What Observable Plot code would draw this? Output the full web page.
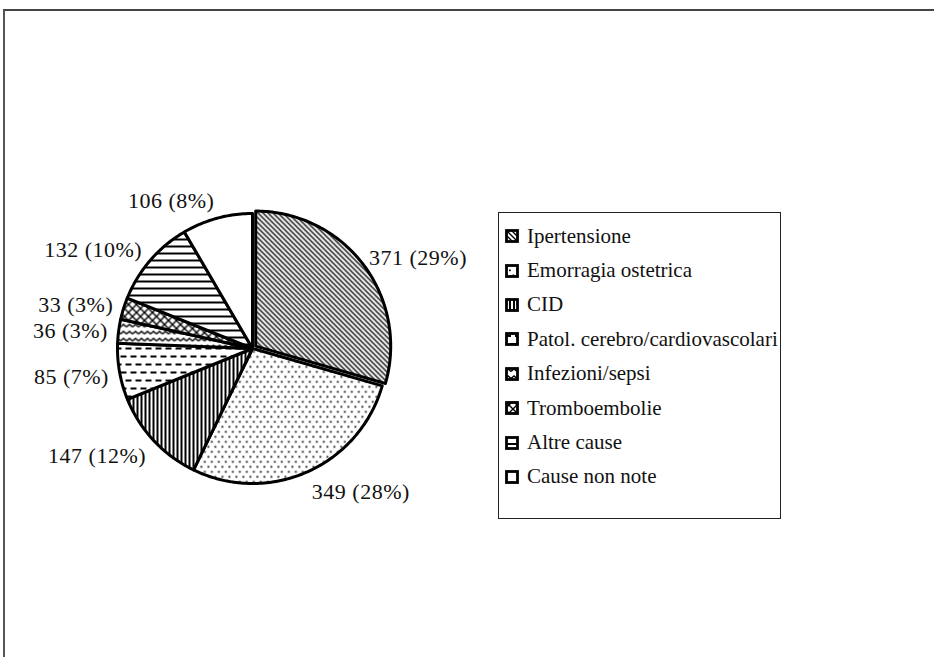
<!DOCTYPE html>
<html>
<head>
<meta charset="utf-8">
<script src="https://cdn.jsdelivr.net/npm/d3@7"></script>
<script src="https://cdn.jsdelivr.net/npm/@observablehq/plot@0.6"></script>
<style>
  body { margin: 0; background: #fff; }
  #wrap { position: relative; width: 934px; height: 657px; overflow: hidden; background: #fff; font-family: "Liberation Serif", "Times New Roman", serif; }
  #frame { position: absolute; left: 3px; top: 9px; width: 960px; height: 700px; border-top: 2px solid #444; border-left: 2px solid #555; }
  #chart { position: absolute; left: 0; top: 0; }
  #legend { position: absolute; left: 498px; top: 212px; width: 283px; height: 307px; border: 1px solid #222; box-sizing: border-box; padding-top: 6px; background: #fff; }
  .item { height: 34.4px; display: flex; align-items: center; font-size: 21px; color: #111; white-space: nowrap; }
  .item svg { margin-left: 6px; margin-right: 8px; flex: none; }
</style>
</head>
<body>
<div id="wrap">
  <div id="frame"></div>
  <div id="chart"></div>
  <div id="legend"></div>
</div>
<script>
// ---- data ----
const causes = ["Ipertensione", "Emorragia ostetrica", "CID", "Patol. cerebro/cardiovascolari", "Infezioni/sepsi", "Tromboembolie", "Altre cause", "Cause non note"];
const deaths = [371, 349, 147, 85, 36, 33, 132, 106];
const percents = ["29%", "28%", "12%", "7%", "3%", "3%", "10%", "8%"];

const rows = causes.map((c, i) => ({cause: c, value: deaths[i], label: `${deaths[i]} (${percents[i]})`, i}));

// ---- layout constants ----
const W = 934, H = 657;
const cx = 252, cy = 348, R = 135;
const explodePx = 4;

// ---- pie geometry in unit-radius data space ----
const arcs = d3.pie().sort(null).value(d => d.value)(rows);
const slices = arcs.map((a, i) => {
  const mid = (a.startAngle + a.endAngle) / 2;
  const off = i === 0 ? explodePx / R : 0;
  const ox = off * Math.sin(mid), oy = off * Math.cos(mid);
  const n = Math.max(2, Math.ceil((a.endAngle - a.startAngle) / (Math.PI / 180)));
  const pts = [{x: ox, y: oy}];
  for (let k = 0; k <= n; k++) {
    const t = a.startAngle + (a.endAngle - a.startAngle) * k / n;
    pts.push({x: ox + Math.sin(t), y: oy + Math.cos(t)});
  }
  pts.push({x: ox, y: oy});
  return {pts, i};
});

const labelRows = arcs.map(a => {
  const mid = (a.startAngle + a.endAngle) / 2;
  const s = Math.sin(mid), c = Math.cos(mid);
  return {
    label: a.data.label,
    x: 1.08 * s,
    y: 1.07 * c + (10 / R) * c - 2 / R,
    right: s > 0
  };
});

// ---- patterns ----
function defsMark() {
  const defs = d3.create("svg:defs");
  const pat = (id, w, h) => defs.append("pattern").attr("id", id).attr("patternUnits", "userSpaceOnUse").attr("width", w).attr("height", h);
  const bg = (p, w, h) => p.append("rect").attr("width", w).attr("height", h).attr("fill", "#fff");
  // 0 diagonal "\"
  let p = pat("pat-0", 5, 5); bg(p, 5, 5);
  p.append("path").attr("d", "M-1,-1L6,6M-1,4L1,6M4,-1L6,1").attr("stroke", "#000").attr("stroke-width", 1.3);
  // 1 dots
  p = pat("pat-1", 7, 10); bg(p, 7, 10);
  p.append("rect").attr("x", 0.5).attr("y", 0.5).attr("width", 1.7).attr("height", 1.7).attr("fill", "#000");
  p.append("rect").attr("x", 4).attr("y", 5.5).attr("width", 1.7).attr("height", 1.7).attr("fill", "#000");
  // 2 vertical
  p = pat("pat-2", 4, 4); bg(p, 4, 4);
  p.append("rect").attr("x", 0).attr("y", 0).attr("width", 2).attr("height", 4).attr("fill", "#000");
  // 3 dashes
  p = pat("pat-3", 10, 16); bg(p, 10, 16);
  p.append("rect").attr("x", 0).attr("y", 3).attr("width", 6).attr("height", 2).attr("fill", "#000");
  p.append("rect").attr("x", 5).attr("y", 11).attr("width", 6).attr("height", 2).attr("fill", "#000");
  p.append("rect").attr("x", -5).attr("y", 11).attr("width", 6).attr("height", 2).attr("fill", "#000");
  // 4 wave
  p = pat("pat-4", 6, 7); bg(p, 6, 7);
  p.append("path").attr("d", "M0,4.5L3,2L6,4.5").attr("fill", "none").attr("stroke", "#000").attr("stroke-width", 1.4);
  // 5 cross-hatch
  p = pat("pat-5", 8, 8); bg(p, 8, 8);
  p.append("path").attr("d", "M0,0L8,8M8,0L0,8").attr("stroke", "#000").attr("stroke-width", 1.4);
  // 6 horizontal
  p = pat("pat-6", 7, 7); bg(p, 7, 7);
  p.append("rect").attr("x", 0).attr("y", 0).attr("width", 7).attr("height", 2).attr("fill", "#000");
  // 7 blank
  p = pat("pat-7", 4, 4); bg(p, 4, 4);
  return defs.node();
}

const chart = Plot.plot({
  width: W,
  height: H,
  margin: 0,
  x: {domain: [-cx / R, (W - cx) / R], range: [0, W], axis: null},
  y: {domain: [-(H - cy) / R, cy / R], range: [H, 0], axis: null},
  style: {background: "transparent", fontFamily: "'Liberation Serif', 'Times New Roman', serif"},
  marks: [
    defsMark,
    ...slices.map(s => Plot.line(s.pts, {
      x: "x", y: "y",
      fill: `url(#pat-${s.i})`,
      stroke: "#000",
      strokeWidth: 3,
      strokeLinejoin: "round"
    })),
    Plot.text(labelRows.filter(d => d.right), {x: "x", y: "y", text: "label", textAnchor: "start", lineAnchor: "middle", fontSize: 22, fill: "#111"}),
    Plot.text(labelRows.filter(d => !d.right), {x: "x", y: "y", text: "label", textAnchor: "end", lineAnchor: "middle", fontSize: 22, fill: "#111"})
  ]
});
document.getElementById("chart").appendChild(chart);
d3.select(chart).selectAll("text").style("letter-spacing", "0.5px");

// ---- legend ----
const legend = d3.select("#legend");
rows.forEach((r, i) => {
  const it = legend.append("div").attr("class", "item");
  const sw = it.append("svg").attr("width", 14).attr("height", 14);
  sw.append("rect").attr("x", 1.5).attr("y", 1.5).attr("width", 11).attr("height", 11)
    .attr("fill", `url(#pat-${i})`).attr("stroke", "#000").attr("stroke-width", 2.8);
  it.append("span").text(r.cause);
});
</script>
</body>
</html>
